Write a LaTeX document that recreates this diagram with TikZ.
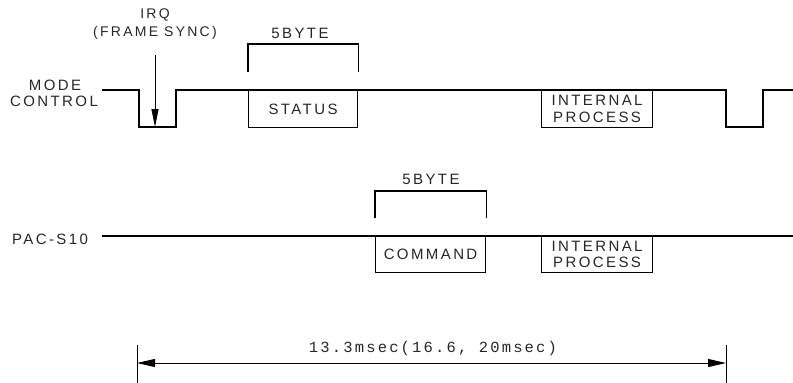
\documentclass[tikz,border=0pt]{standalone}
\usepackage{fontspec}
\usetikzlibrary{arrows.meta,calc}
\newfontfamily\lblfont[LetterSpace=16]{Liberation Sans}
\newfontfamily\dimfont[LetterSpace=14]{Liberation Mono}
\tikzset{
  sig/.style={line width=1.8pt, line join=miter},
  boxnode/.style={draw, line width=1.1pt, inner sep=0pt, anchor=north west,
     font=\lblfont\fontsize{15}{16.5}\selectfont, align=center, text=black!85},
  bracket/.style={line width=1.1pt},
  lbl/.style={inner sep=0pt, align=center, font=\lblfont\fontsize{15}{17}\selectfont, text=black!85},
  dimlbl/.style={inner sep=0pt, font=\dimfont\fontsize{15.5}{16}\selectfont, text=black!85},
  thinline/.style={line width=0.9pt},
}
\begin{document}
\begin{tikzpicture}[x=1pt,y=-1pt]
\useasboundingbox (0,0) rectangle (793,383);
% labels
\node[lbl] (mode) at (55,85.5) {MODE};
\node[lbl] (control) at (54,101.5) {CONTROL};
\node[lbl] (pac) at (50,239) {PAC-S10};
\node[lbl, font=\lblfont\fontsize{14}{17}\selectfont] (irq) at (155,15) {IRQ};
\node[lbl, font=\lblfont\fontsize{14}{17}\selectfont] (fs) at (155,33) {(FRAME SYNC)};
% waveform 1
\draw[sig] (102,90) -- (139,90) -- (139,127) -- (176,127) -- (176,90)
  -- (726,90) -- (726,127) -- (763,127) -- (763,90) -- (793,90);
% waveform 2
\draw[sig] (102,236) -- (793,236);
% boxes row 1
\node[boxnode, minimum width=109pt, minimum height=37pt] (status) at (248,90) {\raisebox{-3pt}{STATUS}};
\node[boxnode, minimum width=111pt, minimum height=37pt] (ip1) at (541,90) {INTERNAL\\PROCESS};
% boxes row 2
\node[boxnode, minimum width=110pt, minimum height=36pt] (cmd) at (375,236) {\raisebox{-2pt}{COMMAND}};
\node[boxnode, minimum width=111pt, minimum height=36pt] (ip2) at (541,236) {INTERNAL\\PROCESS};
% brackets
\draw[bracket] ([yshift=18pt]status.north west) -- ([yshift=46pt]status.north west)
  -- ([yshift=46pt]status.north east) -- ([yshift=18pt]status.north east);
\node[lbl] (b1) at (300,33) {5BYTE};
\draw[bracket] ([yshift=18pt]cmd.north west) -- ([yshift=45pt]cmd.north west)
  -- ([yshift=45pt]cmd.north east) -- ([yshift=18pt]cmd.north east);
\node[lbl] (b2) at (431,179) {5BYTE};
% IRQ arrow
\coordinate (irqtail) at (155,55);
\coordinate (irqtip) at (155,127);
\draw[thinline, -{Triangle[length=18pt,width=7pt]}] (irqtail) -- (irqtip);
% dimension
\coordinate (dl) at (137,363);
\coordinate (dr) at (726,363);
\draw[thinline] (137,345) -- (137,383);
\draw[thinline] (726,345) -- (726,383);
\draw[thinline, {Triangle[length=18pt,width=8pt]}-{Triangle[length=18pt,width=8pt]}] (dl) -- (dr);
\node[dimlbl] (dim) at (433,348) {13.3msec(16.6, 20msec)};
\end{tikzpicture}
\end{document}
